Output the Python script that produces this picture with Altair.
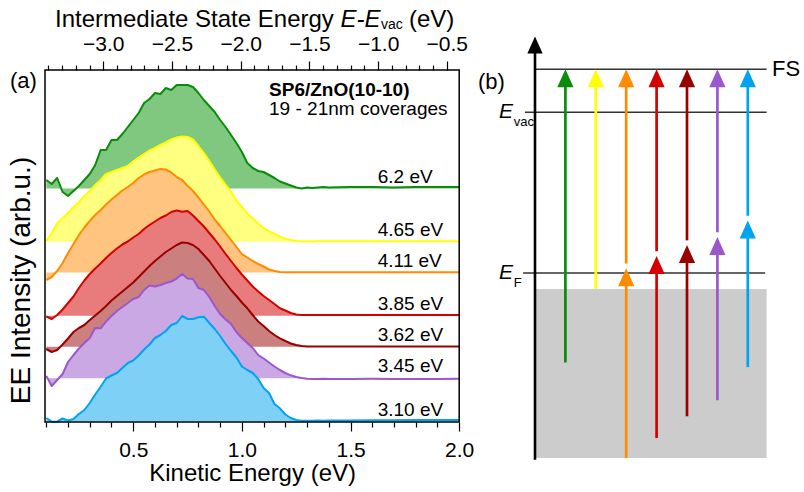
import altair as alt
import pandas as pd

FONT = "Liberation Sans"

# ---------------------------------------------------------------- spectra
# kinetic-energy sampling (eV)
KE = [0.100, 0.125, 0.150, 0.175, 0.200, 0.225, 0.250, 0.275, 0.300, 0.325,
      0.350, 0.375, 0.400, 0.425, 0.450, 0.475, 0.500, 0.525, 0.550, 0.575,
      0.600, 0.625, 0.650, 0.675, 0.700, 0.725, 0.750, 0.775, 0.800, 0.825,
      0.850, 0.875, 0.900, 0.925, 0.950, 0.975, 1.000, 1.025, 1.050, 1.075,
      1.100, 1.125, 1.150, 1.175, 1.200, 1.225, 1.250, 1.275, 1.300, 1.325,
      1.350, 1.375, 1.400, 1.5, 1.6, 1.7, 1.8, 1.9, 2.0]

# EE intensity (arb.u.) above each spectrum's own baseline
EE_6_20 = [8.5, 4.5, 10.5, -3.5, -7.5, -2.5, 2.5, 8.5, 14.5, 23.5,
           38.5, 38.5, 48.5, 48.5, 54.5, 61.5, 68.5, 75.5, 85.5, 89.5,
           95.5, 94.5, 100.5, 98.5, 103.5, 103.5, 103.5, 101.5, 95.5, 88.5,
           82.5, 76.5, 68.5, 61.5, 53.5, 45.5, 36.5, 25.5, 20.5, 17.5,
           16.5, 13.5, 10.5, 7.0, 5.0, 3.0, 1.0, 0.0, 1.0, 0.5,
           1.0, 1.5, 1.0, 1.5, 1.5, 1.0, 1.5, 1.5, 1.5]
EE_4_65 = [0.7, 8.7, 18.4, 23.7, 28.7, 34.7, 39.7, 45.7, 50.7, 56.7,
           61.7, 67.7, 69.7, 71.7, 73.7, 75.7, 80.2, 84.2, 87.7, 91.2,
           93.7, 96.7, 99.2, 102.2, 104.2, 105.2, 104.7, 102.2, 95.7, 88.7,
           80.7, 72.2, 64.2, 57.2, 50.2, 41.2, 34.7, 28.4, 23.2, 18.2,
           13.7, 10.4, 7.7, 5.0, 3.1, 1.7, 0.7, 0.2, 0.3, 0.3,
           0.4, 0.4, 0.4, 0.4, 0.4, 0.5, 0.4, 0.4, 0.5]
EE_4_11 = [-7.5, -4.5, 1.5, 9.5, 19.5, 28.5, 37.5, 45.0, 51.5, 57.5,
           62.5, 68.0, 73.0, 77.5, 82.0, 85.5, 89.5, 94.5, 98.0, 100.5,
           102.0, 103.5, 103.0, 100.0, 95.5, 92.5, 86.5, 81.5, 75.0, 68.0,
           61.0, 53.0, 46.5, 39.5, 32.5, 25.5, 18.5, 15.0, 11.5, 8.5,
           6.0, 3.0, 1.5, 0.5, 0.3, 0.2, 0.2, 0.2, 0.2, 0.2,
           0.2, 0.2, 0.2, 0.2, 0.2, 0.2, 0.2, 0.2, 0.2]
EE_3_85 = [-0.8, -3.3, 0.7, 6.2, 12.7, 19.2, 27.7, 35.2, 41.7, 47.2,
           52.2, 57.7, 62.7, 67.2, 71.2, 74.2, 78.2, 81.7, 86.7, 90.7,
           94.2, 97.7, 100.2, 103.7, 105.2, 104.0, 104.7, 100.2, 94.7, 89.2,
           82.7, 76.2, 69.2, 61.7, 54.7, 47.7, 41.2, 35.2, 29.2, 24.2,
           19.7, 15.7, 11.7, 7.4, 5.2, 2.7, 1.2, 0.7, 0.7, 0.7,
           0.7, 0.7, 0.7, 0.7, 0.7, 0.7, 0.7, 0.7, 0.7]
EE_3_62 = [-2.3, -5.3, -3.3, 2.2, 8.2, 14.7, 18.7, 21.7, 26.7, 31.2,
           35.7, 40.7, 46.2, 50.7, 55.2, 59.7, 64.2, 69.7, 75.2, 80.7,
           85.7, 90.2, 94.7, 98.2, 101.7, 104.2, 103.7, 101.7, 97.7, 91.7,
           85.7, 78.2, 70.7, 63.7, 56.7, 50.7, 44.2, 38.4, 31.7, 25.2,
           20.7, 15.7, 11.7, 8.4, 5.7, 3.2, 1.7, 0.7, 0.2, 0.2,
           0.2, 0.2, 0.2, 0.2, 0.2, 0.2, 0.2, 0.2, 0.2]
EE_3_45 = [2.3, -7.7, -1.7, 4.3, 16.3, 23.3, 29.8, 35.3, 40.3, 50.3,
           50.0, 56.8, 62.3, 67.3, 71.3, 75.3, 79.3, 81.3, 88.3, 92.8,
           91.8, 93.3, 95.3, 96.8, 99.8, 104.3, 99.8, 99.3, 90.3, 88.3,
           81.3, 72.3, 64.3, 58.8, 54.3, 46.3, 40.3, 35.3, 30.3, 23.3,
           19.8, 15.8, 11.8, 8.3, 5.3, 3.0, 1.3, 0.3, -0.4, -0.7,
           -0.7, -0.5, -0.7, -0.7, -0.5, -0.7, -0.6, -0.7, -0.5]
EE_3_10 = [3.5, -0.2, 0.0, 3.0, 1.0, 2.5, 7.5, 11.5, 18.5, 27.0,
           34.8, 43.0, 46.0, 48.5, 53.5, 58.5, 61.0, 66.0, 72.0, 77.0,
           83.5, 86.5, 90.5, 96.5, 98.5, 105.5, 102.5, 102.5, 104.2, 104.8,
           98.5, 92.5, 85.5, 77.5, 70.5, 64.0, 55.0, 51.5, 48.5, 42.5,
           33.5, 28.5, 17.5, 13.2, 7.0, 3.5, 1.5, 0.8, 0.8, 0.8,
           1.0, 0.8, 1.0, 1.0, 1.2, 1.2, 1.5, 1.5, 1.5]

SPECTRA = [EE_6_20, EE_4_65, EE_4_11, EE_3_85, EE_3_62, EE_3_45, EE_3_10]
PHOTON_EV = [6.2, 4.65, 4.11, 3.85, 3.62, 3.45, 3.10]
PHOTON_LABELS = ["6.2 eV", "4.65 eV", "4.11 eV", "3.85 eV", "3.62 eV", "3.45 eV", "3.10 eV"]
N_PHOTONS = [1, 1, 2, 2, 2, 2, 2]
# waterfall offsets of the stacked spectra (arb.u.)
OFFSETS = [233.5, 180.3, 149.5, 106.3, 75.3, 43.7, 0.5]
LINE_COLORS = ["#0a8c0a", "#ffff00", "#ff8c00", "#d40000", "#990000", "#9b57cc", "#00a3ef"]
FILL_COLORS = ["#80c880", "#ffff80", "#ffc580", "#e87c7c", "#cc7f7f", "#c9a8e3", "#7fd0f6"]

# axis domains and tick values
KE_DOMAIN = [0.094, 2.0]
INTENSITY_DOMAIN = [0, 352]
ISE_DOMAIN = [-3.424, -0.41]
KE_TICKS = [0.1, 0.2, 0.3, 0.4, 0.5, 0.6, 0.7, 0.8, 0.9, 1.0,
            1.1, 1.2, 1.3, 1.4, 1.5, 1.6, 1.7, 1.8, 1.9, 2.0]
ISE_TICKS = [-3.4, -3.3, -3.2, -3.1, -3.0, -2.9, -2.8, -2.7, -2.6, -2.5,
             -2.4, -2.3, -2.2, -2.1, -2.0, -1.9, -1.8, -1.7, -1.6, -1.5,
             -1.4, -1.3, -1.2, -1.1, -1.0, -0.9, -0.8, -0.7, -0.6, -0.5, -0.4]

# ---------------------------------------------------------------- diagram
# energies relative to E_F (eV)
FS_LEVEL = 4.31
EVAC_LEVEL = 3.40
EF_LEVEL = 0.0
BAND_TOP = -0.34
BAND_BOTTOM = -3.91

# ---------------------------------------------------------------- layout
A_XRANGE = [45, 459.2]
A_YRANGE = [422, 70]
B_XRANGE = [535, 778.2]
B_YRANGE = [462.2, 36.5]
B_XDOMAIN = [0, 8]
B_YDOMAIN = [-4.0, 5.0]
HEAD_GAP = 0.1      # space between stacked photon arrows (eV)
SHAFT_TRIM = 0.25   # shaft stops under the arrow head (eV)
HEAD = "M0,0L0.9,2L-0.9,2Z"

x_ke = alt.Scale(domain=KE_DOMAIN, range=A_XRANGE, nice=False, zero=False)
y_int = alt.Scale(domain=INTENSITY_DOMAIN, range=A_YRANGE, nice=False, zero=False)
x_ise = alt.Scale(domain=ISE_DOMAIN, range=A_XRANGE, nice=False, zero=False)
x_slot = alt.Scale(domain=B_XDOMAIN, range=B_XRANGE, nice=False, zero=False)
y_en = alt.Scale(domain=B_YDOMAIN, range=B_YRANGE, nice=False, zero=False)

MAJOR = "abs(datum.value * 2 - round(datum.value * 2)) < 0.001"
TICK_SIZE = {"condition": {"test": MAJOR, "value": 9}, "value": 5}
LABEL_EXPR = MAJOR + " ? format(datum.value, '.1f') : ''"

axis_common = dict(
    offset=-70, grid=False, domain=False, tickSize=TICK_SIZE, tickWidth=1.2,
    tickColor="black", labelExpr=LABEL_EXPR, labelFont=FONT,
    labelColor="black", labelFlush=False, labelOverlap=False,
)
bottom_axis = alt.Axis(
    orient="bottom", values=KE_TICKS, labelPadding=8, labelFontSize=21,
    title="Kinetic Energy (eV)", titleFont=FONT, titleFontSize=24,
    titleFontWeight="normal", titleColor="black", titleY=58,
    titleBaseline="alphabetic", **axis_common)
top_axis = alt.Axis(orient="top", values=ISE_TICKS, labelPadding=7,
                    labelFontSize=21, title=None, **axis_common)
left_axis = alt.Axis(
    orient="left", offset=-45, grid=False, domain=False, ticks=False,
    labels=False, title="EE Intensity (arb.u.)", titleFont=FONT,
    titleFontSize=28, titleFontWeight="normal", titleColor="black",
    titleAngle=270, titleAlign="center", titleBaseline="alphabetic",
    titleX=-16, titleY=280)


def text_at(txt, x, y, size, style="normal", weight="normal", align="left"):
    return alt.Chart(pd.DataFrame({"t": [txt]})).mark_text(
        font=FONT, fontSize=size, fontStyle=style, fontWeight=weight,
        align=align, baseline="alphabetic", color="black",
    ).encode(x=alt.value(x), y=alt.value(y), text="t:N")


# ---------------------------------------------------------------- panel (a)
a_layers = []
for ys, off, fill, line in zip(SPECTRA, OFFSETS, FILL_COLORS, LINE_COLORS):
    df = pd.DataFrame({"ke": KE, "level": [off + v for v in ys], "base": off})
    area = alt.Chart(df).mark_area(color=fill, opacity=1).encode(
        x=alt.X("ke:Q", scale=x_ke, axis=None),
        y=alt.Y("level:Q", scale=y_int, axis=None),
        y2="base:Q",
    )
    trace = alt.Chart(df).mark_line(color=line, strokeWidth=2, strokeJoin="round").encode(
        x=alt.X("ke:Q", scale=x_ke, axis=None),
        y=alt.Y("level:Q", scale=y_int, axis=None),
    )
    a_layers += [area, trace]

labels_df = pd.DataFrame({"label": PHOTON_LABELS, "base": OFFSETS, "ke": 1.625})
a_layers.append(
    alt.Chart(labels_df).mark_text(
        font=FONT, fontSize=19, align="left", baseline="alphabetic", dy=-6, color="black"
    ).encode(
        x=alt.X("ke:Q", scale=x_ke, axis=None),
        y=alt.Y("base:Q", scale=y_int, axis=None),
        text="label:N",
    )
)

sample_df = pd.DataFrame({"t": ["SP6/ZnO(10-10)", "19 - 21nm coverages"],
                          "ke": [1.125, 1.125], "i": [326, 307], "w": ["bold", "normal"]})
for w in ["bold", "normal"]:
    a_layers.append(
        alt.Chart(sample_df[sample_df.w == w]).mark_text(
            font=FONT, fontSize=19, fontWeight=w, align="left", baseline="alphabetic", color="black"
        ).encode(
            x=alt.X("ke:Q", scale=x_ke, axis=None),
            y=alt.Y("i:Q", scale=y_int, axis=None),
            text="t:N",
        )
    )

frame_df = pd.DataFrame({"k0": [KE_DOMAIN[0]], "k1": [KE_DOMAIN[1]],
                         "i0": [INTENSITY_DOMAIN[0]], "i1": [INTENSITY_DOMAIN[1]]})
a_layers.append(
    alt.Chart(frame_df).mark_rect(fillOpacity=0, stroke="black", strokeWidth=1.5).encode(
        x=alt.X("k0:Q", scale=x_ke, axis=None), x2="k1:Q",
        y=alt.Y("i0:Q", scale=y_int, axis=None), y2="i1:Q",
    )
)
panel_a = alt.layer(*a_layers)

# axes of panel (a): kinetic energy / intensity, and the intermediate-state scale on top
a_axes = alt.Chart(frame_df).mark_point(opacity=0).encode(
    x=alt.X("k0:Q", scale=x_ke, axis=bottom_axis),
    y=alt.Y("i0:Q", scale=y_int, axis=left_axis),
)
a_top_axis = alt.Chart(pd.DataFrame({"ise": ISE_DOMAIN})).mark_point(opacity=0).encode(
    x=alt.X("ise:Q", scale=x_ise, axis=top_axis)
)

# ---------------------------------------------------------------- panel (b)
band_df = pd.DataFrame({"x0": [0], "x1": [7.62], "e0": [BAND_BOTTOM], "e1": [BAND_TOP]})
band = alt.Chart(band_df).mark_rect(color="#cccccc").encode(
    x=alt.X("x0:Q", scale=x_slot, axis=None), x2="x1:Q",
    y=alt.Y("e0:Q", scale=y_en, axis=None), y2="e1:Q",
)

levels_df = pd.DataFrame({"energy": [FS_LEVEL, EVAC_LEVEL, EF_LEVEL],
                          "x0": [0, -0.33, -0.39], "x1": [7.62, 7.62, 7.57]})
levels = alt.Chart(levels_df).mark_rule(color="#333333", strokeWidth=1.5).encode(
    x=alt.X("x0:Q", scale=x_slot, axis=None), x2="x1:Q",
    y=alt.Y("energy:Q", scale=y_en, axis=None),
)

rows = []
for slot, (hv, n, col) in enumerate(zip(PHOTON_EV, N_PHOTONS, LINE_COLORS), start=1):
    rows.append(dict(slot=slot, start=FS_LEVEL - hv, tip=FS_LEVEL, color=col))
    if n == 2:
        rows.append(dict(slot=slot, start=max(BAND_BOTTOM, FS_LEVEL - 2 * hv - HEAD_GAP),
                         tip=FS_LEVEL - hv - HEAD_GAP, color=col))
arrows_df = pd.DataFrame(rows)
arrows_df["shaft_end"] = arrows_df["tip"] - SHAFT_TRIM

shafts = alt.Chart(arrows_df).mark_rule(strokeWidth=2.7, strokeCap="butt").encode(
    x=alt.X("slot:Q", scale=x_slot, axis=None),
    y=alt.Y("start:Q", scale=y_en, axis=None), y2="shaft_end:Q",
    color=alt.Color("color:N", scale=None),
)
heads = alt.Chart(arrows_df).mark_point(shape=HEAD, filled=True, size=324, opacity=1, strokeWidth=0).encode(
    x=alt.X("slot:Q", scale=x_slot, axis=None),
    y=alt.Y("tip:Q", scale=y_en, axis=None),
    color=alt.Color("color:N", scale=None),
)

axis_df = pd.DataFrame({"slot": [0], "e0": [-3.95], "e1": [4.8], "tip": [5.0]})
e_axis = alt.Chart(axis_df).mark_rule(color="black", strokeWidth=2.6, strokeCap="butt").encode(
    x=alt.X("slot:Q", scale=x_slot, axis=None),
    y=alt.Y("e0:Q", scale=y_en, axis=None), y2="e1:Q",
)
e_axis_head = alt.Chart(axis_df).mark_point(shape=HEAD, filled=True, size=289, color="black", opacity=1, strokeWidth=0).encode(
    x=alt.X("slot:Q", scale=x_slot, axis=None),
    y=alt.Y("tip:Q", scale=y_en, axis=None),
)

fs_df = pd.DataFrame({"t": ["FS"], "slot": [7.8], "energy": [FS_LEVEL]})
fs_label = alt.Chart(fs_df).mark_text(font=FONT, fontSize=22, align="left", baseline="middle", color="black").encode(
    x=alt.X("slot:Q", scale=x_slot, axis=None),
    y=alt.Y("energy:Q", scale=y_en, axis=None), text="t:N",
)
lvl_df = pd.DataFrame({"main": ["E", "E"], "sub": ["vac", "F"], "energy": [EVAC_LEVEL, EF_LEVEL],
                       "slot_main": [-0.72, -0.72], "slot_sub": [-0.70, -0.70]})
lvl_main = alt.Chart(lvl_df).mark_text(font=FONT, fontSize=21, fontStyle="italic", align="right",
                                       baseline="middle", color="black").encode(
    x=alt.X("slot_main:Q", scale=x_slot, axis=None),
    y=alt.Y("energy:Q", scale=y_en, axis=None), text="main:N",
)
lvl_sub = alt.Chart(lvl_df).mark_text(font=FONT, fontSize=13, align="left",
                                      baseline="alphabetic", dy=14, color="black").encode(
    x=alt.X("slot_sub:Q", scale=x_slot, axis=None),
    y=alt.Y("energy:Q", scale=y_en, axis=None), text="sub:N",
)

annotations = [
    text_at("(a)", 10, 87.5, 22),
    text_at("(b)", 478, 88.5, 22),
    text_at("Intermediate State Energy", 55, 27, 24),
    text_at("E-E", 340.5, 27, 24, style="italic"),
    text_at("vac", 381, 28.5, 14),
    text_at("(eV)", 409, 27, 24),
]

panel_b = alt.layer(band, levels, shafts, heads, e_axis, e_axis_head,
                    fs_label, lvl_main, lvl_sub, *annotations)

chart = (
    alt.layer(panel_a, a_axes, a_top_axis, panel_b)
    .resolve_scale(x="independent", y="independent")
    .properties(width=804, height=492, padding=0,
                autosize=alt.AutoSizeParams(type="none"), background="white")
    .configure(font=FONT)
    .configure_view(strokeOpacity=0)
)

chart.save("out.html", embed_options={"renderer": "svg", "actions": False})
